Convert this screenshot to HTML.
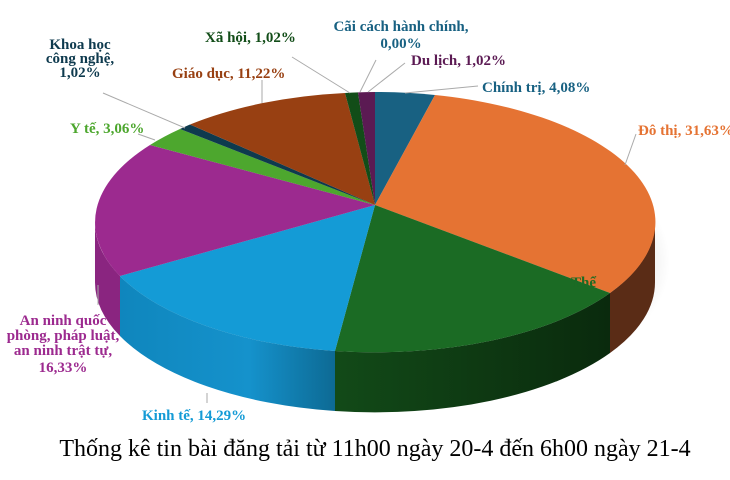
<!DOCTYPE html>
<html><head><meta charset="utf-8"><style>
html,body{margin:0;padding:0;background:#fff}
svg{display:block}
text{font-family:"Liberation Serif",serif;font-weight:bold;font-size:15px}
</style></head><body>
<svg width="730" height="480" viewBox="0 0 730 480">
<defs>
<radialGradient id="sh" cx="0.5" cy="0.5" r="0.5">
<stop offset="0.85" stop-color="#000" stop-opacity="0.12"/><stop offset="1" stop-color="#000" stop-opacity="0"/>
</radialGradient>
<linearGradient id="kt" x1="0" x2="1" y1="0" y2="0">
<stop offset="0" stop-color="#0f86bd"/><stop offset="0.6" stop-color="#1592cc"/><stop offset="1" stop-color="#0d6a94"/>
</linearGradient>
<linearGradient id="tt" x1="0" x2="1"><stop offset="0" stop-color="#124a18"/><stop offset="1" stop-color="#0a2a0d"/></linearGradient>
</defs>
<ellipse cx="380" cy="262" rx="290" ry="150" fill="url(#sh)"/>
<path d="M610,293 A280,130 0 0 0 655,222 L655,282 A280,130 0 0 1 610,353 Z" fill="#5a2c16"/>
<path d="M335,351 A280,130 0 0 0 610,293 L610,353 A280,130 0 0 1 335,411 Z" fill="url(#tt)"/>
<path d="M120,276 A280,130 0 0 0 335,351 L335,411 A280,130 0 0 1 120,336 Z" fill="url(#kt)"/>
<path d="M95,222 A280,130 0 0 0 120,276 L120,336 A280,130 0 0 1 95,282 Z" fill="#8a2580"/>
<g stroke="none">
<path d="M375,205 L375,92 A280,130 0 0 1 435,95 Z" fill="#186182"/>
<path d="M375,205 L435,95 A280,130 0 0 1 610,293 Z" fill="#e57333"/>
<path d="M375,205 L610,293 A280,130 0 0 1 335,351 Z" fill="#1b6b24"/>
<path d="M375,205 L335,351 A280,130 0 0 1 120,276 Z" fill="#149bd6"/>
<path d="M375,205 L120,276 A280,130 0 0 1 150,145 Z" fill="#9c2a8f"/>
<path d="M375,205 L150,145 A280,130 0 0 1 180,129 Z" fill="#4da72e"/>
<path d="M375,205 L180,129 A280,130 0 0 1 190,124.5 Z" fill="#0e3a4e"/>
<path d="M375,205 L190,124.5 A280,130 0 0 1 345,93 Z" fill="#984012"/>
<path d="M375,205 L345,93 A280,130 0 0 1 358,92.4 Z" fill="#124d18"/>
<path d="M375,205 L358,92.4 A280,130 0 0 1 375,92 Z" fill="#5b1a53"/>
</g>
<g stroke="#aaa" stroke-width="1" fill="none">
<path d="M103,93 L185,128"/>
<path d="M292,57 L350,93"/>
<path d="M376,60 L360,92"/>
<path d="M405,63 L368,92"/>
<path d="M262,80 L262,103"/>
<path d="M478,86 L405,93"/>
<path d="M138,134 L155,140"/>
<path d="M636,134 L625,165"/>
<path d="M98,285 L98,305"/>
<path d="M207,393 L207,403"/>
</g>
<g text-anchor="middle">
<text x="80" y="49" fill="#0e3a4e">Khoa học</text>
<text x="80" y="63" fill="#0e3a4e">công nghệ,</text>
<text x="80" y="77" fill="#0e3a4e">1,02%</text>
<text x="63" y="325" fill="#9c2a8f">An ninh quốc</text>
<text x="63" y="340" fill="#9c2a8f">phòng, pháp luật,</text>
<text x="63" y="355" fill="#9c2a8f">an ninh trật tự,</text>
<text x="63" y="372" fill="#9c2a8f">16,33%</text>
<text x="401" y="31" fill="#186182">Cãi cách hành chính,</text>
<text x="401" y="48" fill="#186182">0,00%</text>
</g>
<text x="205" y="42" fill="#124d18">Xã hội, 1,02%</text>
<text x="411" y="65" fill="#5b1a53">Du lịch, 1,02%</text>
<text x="172" y="78" fill="#984012">Giáo dục, 11,22%</text>
<text x="482" y="92" fill="#186182">Chính trị, 4,08%</text>
<text x="70" y="133" fill="#4da72e">Y tế, 3,06%</text>
<text x="638" y="135" fill="#e57333">Đô thị, 31,63%</text>
<text x="571" y="287" fill="#1b6b24" font-size="12">Thể</text>
<text x="142" y="420" fill="#149bd6">Kinh tế, 14,29%</text>
<text x="375" y="456" text-anchor="middle" style="font-weight:normal;font-size:24px" fill="#000">Thống kê tin bài đăng tải từ 11h00 ngày 20-4 đến 6h00 ngày 21-4</text>
</svg>
</body></html>
